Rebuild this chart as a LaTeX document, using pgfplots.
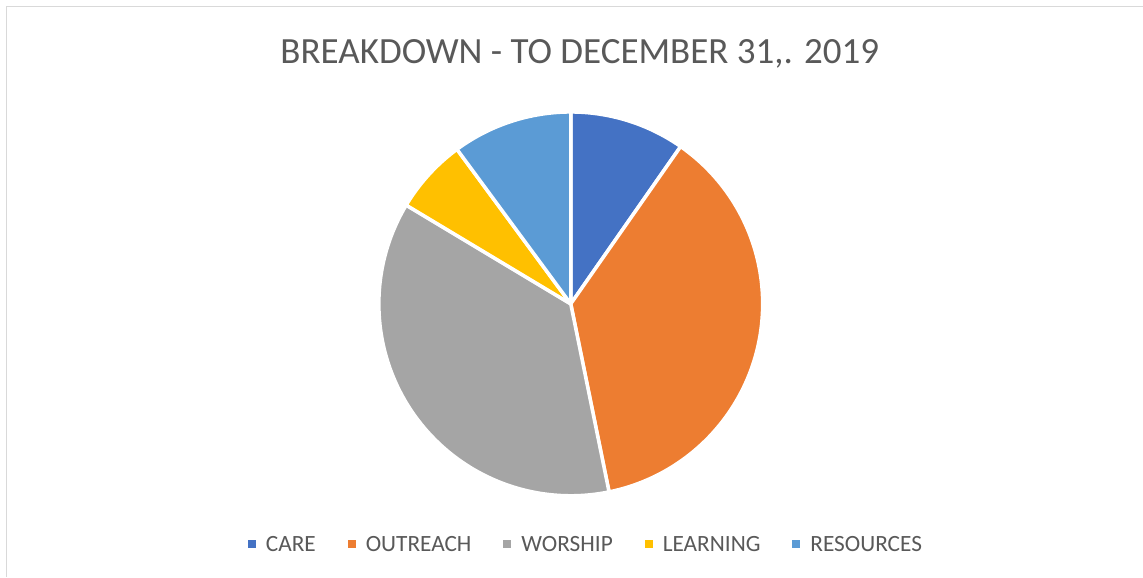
\documentclass[border=0pt]{standalone}
\usepackage{fontspec}
\setmainfont{Carlito}
\usepackage{pgfplots}
\usepackage{pgfplotstable}
\pgfplotsset{compat=1.18}
\definecolor{cCare}{HTML}{4472C4}
\definecolor{cOut}{HTML}{ED7D31}
\definecolor{cWor}{HTML}{A5A5A5}
\definecolor{cLea}{HTML}{FFC000}
\definecolor{cRes}{HTML}{5B9BD5}
\definecolor{txt}{HTML}{595959}
\definecolor{framec}{HTML}{D9D9D9}

\pgfplotstableread{
name value
CARE 9.7
OUTREACH 37.1
WORSHIP 36.8
LEARNING 6.3
RESOURCES 10.1
}\piedata

\pgfplotsset{
  sq/.style={legend image code/.code={\fill[#1, draw=none] (0pt,3.5pt) rectangle (8pt,11.5pt);\path[draw=none, fill=none] (0pt,4pt) rectangle (18pt,5pt);}},
  slice/.style={fill=#1, draw=white, line width=3.5pt, line join=round, samples=90, forget plot},
}

\begin{document}
\begin{tikzpicture}
\pgfplotstablegetelem{0}{value}\of\piedata\let\vA\pgfplotsretval
\pgfplotstablegetelem{1}{value}\of\piedata\let\vB\pgfplotsretval
\pgfplotstablegetelem{2}{value}\of\piedata\let\vC\pgfplotsretval
\pgfplotstablegetelem{3}{value}\of\piedata\let\vD\pgfplotsretval
\pgfplotstablegetelem{4}{value}\of\piedata\let\vE\pgfplotsretval
\pgfmathsetmacro\aA{90}
\pgfmathsetmacro\aB{\aA-3.6*\vA}
\pgfmathsetmacro\aC{\aB-3.6*\vB}
\pgfmathsetmacro\aD{\aC-3.6*\vC}
\pgfmathsetmacro\aE{\aD-3.6*\vD}
\pgfmathsetmacro\aF{\aE-3.6*\vE}

\path[fill=white] (0pt,0pt) rectangle (1143pt,-577pt);
\draw[framec, line width=1pt] (7pt,-577pt) -- (7pt,-7pt) -- (1143pt,-7pt);

\node[anchor=base, text=txt, font=\fontsize{37}{44}\selectfont, inner sep=0pt] at (580pt,-64pt) {BREAKDOWN - TO DECEMBER 31,. 2019};

\begin{axis}[
  at={(571pt,-304pt)}, anchor=center,
  scale only axis, width=384pt, height=384pt,
  xmin=-1, xmax=1, ymin=-1, ymax=1,
  hide axis, clip=false,
  legend columns=5,
  legend style={at={(axis description cs:-0.3411,-0.1285)}, anchor=west,
    draw=none, fill=none, inner sep=0pt, outer sep=0pt,
    font=\fontsize{23.3}{28}\selectfont, text=txt,
    nodes={inner sep=0pt}, cells={anchor=base west}, column sep=0pt,
    /tikz/every even column/.append style={column sep=32pt}},
]
\addplot[slice=cCare, domain=\aB:\aA] ({cos(x)},{sin(x)}) -- (axis cs:0,0) -- cycle;
\addplot[slice=cOut, domain=\aC:\aB] ({cos(x)},{sin(x)}) -- (axis cs:0,0) -- cycle;
\addplot[slice=cWor, domain=\aD:\aC] ({cos(x)},{sin(x)}) -- (axis cs:0,0) -- cycle;
\addplot[slice=cLea, domain=\aE:\aD] ({cos(x)},{sin(x)}) -- (axis cs:0,0) -- cycle;
\addplot[slice=cRes, domain=\aF:\aE] ({cos(x)},{sin(x)}) -- (axis cs:0,0) -- cycle;
\addlegendimage{sq=cCare}\addlegendentry{CARE}
\addlegendimage{sq=cOut}\addlegendentry{OUTREACH}
\addlegendimage{sq=cWor}\addlegendentry{WORSHIP}
\addlegendimage{sq=cLea}\addlegendentry{LEARNING}
\addlegendimage{sq=cRes}\addlegendentry{RESOURCES}
\end{axis}
\end{tikzpicture}
\end{document}
